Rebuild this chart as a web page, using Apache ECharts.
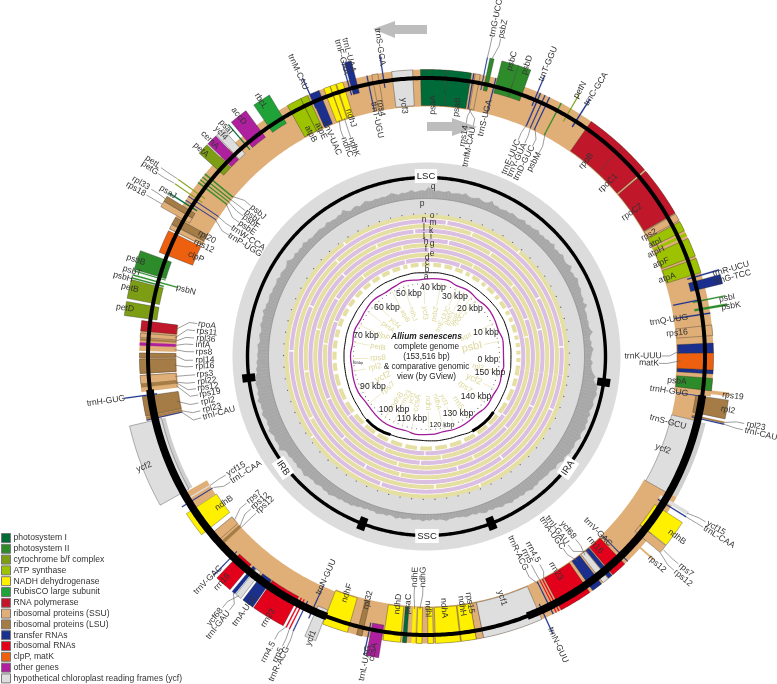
<!DOCTYPE html>
<html><head><meta charset="utf-8">
<style>html,body{margin:0;padding:0;background:#fff}#c{width:777px;height:684px}#c canvas{filter:blur(.35px)}</style>
<script src="https://cdn.jsdelivr.net/npm/echarts@6/dist/echarts.min.js"></script>
</head><body><div id="c"></div>
<script>
/* ---------- data ---------- */
const genomeLength = 153.516; // kbp
const groupNames = ['photosystem I','photosystem II','cytochrome b/f complex','ATP synthase','NADH dehydrogenase','RubisCO large subunit','RNA polymerase','ribosomal proteins (SSU)','ribosomal proteins (LSU)','transfer RNAs','ribosomal RNAs','clpP, matK','other genes','hypothetical chloroplast reading frames (ycf)'];
const groupKeys  = ['psI','psII','cyt','atp','ndh','rbc','rpo','ssu','lsu','trna','rrna','clp','other','ycf'];
// gene, start kbp, end kbp, functional group, strand track
const genes = [
['psbA',.47,1.54,'psII','b'],['trnK-UUU',1.92,2.26,'trna','b'],['matK',2.26,3.71,'clp','b'],['trnK-UUU',3.71,4.56,'trna','b'],['rps16',5.2,6.1,'ssu','b'],
['trnQ-UUG',7.07,7.17,'trna','b'],['psbK',7.5,7.68,'psII','o'],['psbI',8.26,8.36,'psII','o'],['trnS-GCU',8.36,8.46,'trna','i'],['trnG-TCC',9.3,10.07,'trna','o'],['trnR-UCU',10.4,10.5,'trna','o'],
['atpA',10.66,11.94,'atp','b'],['atpF',12.15,13.77,'atp','b'],['atpH',14.03,14.28,'atp','b'],['atpI',14.5,15.35,'atp','b'],['rps2',15.48,16.12,'ssu','b'],
['rpoC2',16.2,20.55,'rpo','b'],['rpoC1',20.72,23.45,'rpo','b'],['rpoB',23.45,26.86,'rpo','b'],['trnC-GCA',27.92,28.02,'trna','o'],['petN',28.87,28.95,'cyt','o'],['psbM',29.8,29.9,'psII','b'],
['trnD-GUC',30.92,31,'trna','b'],['trnY-GUA',31.34,31.42,'trna','b'],['trnE-UUC',31.76,31.86,'trna','b'],['trnT-GGU',32.02,32.1,'trna','o'],['psbD',33.26,34.33,'psII','o'],['psbC',34.33,35.69,'psII','o'],
['trnS-UGA',35.78,35.86,'trna','b'],['psbZ',36.33,36.67,'psII','o'],['trnG-UCC',36.85,36.91,'trna','o'],['rps14',37.18,37.61,'ssu','b'],['trnfM-CAU',37.7,37.78,'trna','b'],
['psaB',37.95,40.08,'psI','b'],['psaA',40.08,42.3,'psI','b'],['ycf3',42.98,44.77,'ycf','b'],['trnS-GGA',45.5,45.58,'trna','o'],['rps4',45.96,46.48,'ssu','b'],['trnT-UGU',46.86,46.94,'trna','b'],
['trnL-UAA',47.88,48.44,'trna','o'],['trnF-GAA',48.57,48.65,'trna','o'],['ndhJ',49.03,49.59,'ndh','b'],['ndhK',49.67,50.15,'ndh','b'],['ndhC',50.19,50.74,'ndh','b'],['trnV-UAC',51.17,52.02,'trna','b'],['trnM-CAU',51.98,52.06,'trna','o'],
['atpE',52.24,52.88,'atp','b'],['atpB',52.88,54.16,'atp','b'],['rbcL',55.01,56.5,'rbc','o'],['accD',57.27,58.76,'other','o'],['psaI',59.02,59.1,'psI','o'],['ycf4',59.62,60.34,'ycf','o'],['cemA',60.42,61.32,'other','o'],['petA',61.41,62.34,'cyt','o'],
['psbJ',63.28,63.4,'psII','b'],['psbL',63.62,63.72,'psII','b'],['psbF',63.92,64,'psII','b'],['psbE',64.2,64.32,'psII','b'],['petL',65,65.07,'cyt','o'],['petG',65.43,65.5,'cyt','o'],['trnW-CCA',65.67,65.73,'trna','b'],['trnP-UGG',66.07,66.13,'trna','b'],
['psaJ',66.3,66.4,'psI','o'],['rpl33',66.65,67.12,'lsu','o'],['rps18',67.12,67.63,'ssu','o'],['rpl20',67.8,68.45,'lsu','b'],['rps12',68.5,68.9,'ssu','b'],['clpP',69.08,71.08,'clp','b'],
['psbB',71.51,73.09,'psII','o'],['psbT',73.17,73.25,'psII','o'],['psbN',73.5,73.6,'psII','l'],['psbH',73.75,73.85,'psII','o'],['petB',73.94,75.48,'cyt','o'],['petD',75.73,76.88,'cyt','o'],
['rpoA',77.1,78,'rpo','b'],['rps11',78.16,78.55,'ssu','b'],['rpl36',78.63,78.8,'lsu','b'],['infA',78.97,79.23,'other','b'],['rps8',79.36,79.66,'ssu','b'],['rpl14',79.87,80.25,'lsu','b'],['rpl16',80.38,81.62,'lsu','b'],
['rps3',81.79,82.51,'ssu','b'],['rpl22',82.51,82.81,'lsu','b'],['rps19',82.9,83.15,'ssu','b'],['trnH-GUG',83.49,83.57,'trna','o'],['rpl2',83.58,85.29,'lsu','b'],['rpl23',85.38,85.55,'lsu','b'],['trnI-CAU',85.6,85.67,'trna','b'],
['ycf2',85.79,92.61,'ycf','o'],['ycf15',93.25,93.35,'ycf','i'],['trnL-CAA',93.6,93.68,'trna','b'],['ndhB',94.33,96.54,'ndh','b'],['rps7',97.01,97.86,'ssu','i'],['rps12',98.08,98.37,'lsu','i'],
['trnV-GAC',99.66,99.74,'trna','o'],['rrn16',100.03,101.44,'rrna','o'],['trnI-GAU',101.66,101.96,'trna','o'],['ycf68',102.04,102.55,'ycf','o'],['trnA-UGC',102.76,103.74,'trna','o'],['rrn23',103.83,106.6,'rrna','o'],
['rrn4.5',106.82,106.92,'rrna','o'],['rrn5',107.11,107.2,'rrna','o'],['trnR-ACG',107.46,107.54,'trna','o'],['trnN-GUU',108.18,108.26,'trna','b'],['ycf1',108.52,109.46,'ycf','o'],['ndhF',109.5,111.72,'ndh','b'],
['rpl32',112.53,113,'lsu','b'],['trnL-UAG',113.47,113.55,'trna','o'],['ccsA',113.68,114.7,'other','o'],['ndhD',114.83,116.33,'ndh','b'],['psaC',116.5,116.84,'psI','b'],['ndhE',117.26,117.56,'ndh','b'],['ndhG',117.69,118.16,'ndh','b'],
['ndhI',118.67,119.14,'ndh','b'],['ndhA',119.31,121.45,'ndh','b'],['ndhH',121.53,122.81,'ndh','b'],['rps15',122.81,123.45,'ssu','b'],['ycf1',123.45,128.65,'ycf','b'],['trnN-GUU',128.95,129.03,'trna','o'],
['trnR-ACG',129.68,129.76,'trna','b'],['rrn5',129.98,130.06,'rrna','b'],['rrn4.5',130.22,130.32,'rrna','b'],['rrn23',130.48,133.34,'rrna','b'],['trnA-UGC',133.64,134.58,'trna','b'],['ycf68',134.75,135.3,'ycf','b'],['trnI-GAU',135.35,135.73,'trna','b'],
['rrn16',135.82,137.18,'rrna','b'],['trnV-GAC',137.48,137.56,'trna','b'],['rps12',139.03,139.17,'ssu','o'],['rps7',139.87,140.59,'ssu','o'],['ndhB',140.64,142.86,'ndh','o'],['trnL-CAA',143.37,143.45,'trna','o'],['ycf15',143.58,143.87,'ycf','o'],
['ycf2',144.34,151.21,'ycf','i'],['trnI-CAU',151.42,151.5,'trna','o'],['rpl23',151.52,151.66,'lsu','o'],['rpl2',151.89,153.42,'lsu','o'],['trnH-GUG',153.4,153.46,'trna','i'],['rps19',.21,.5,'ssu','o']
];
// intergenic background of the gene map
const spacerSegments = [[0,68.95,'band'],[77.1,79.7,'band'],[79.85,81.65,'band'],[81.75,83.2,'band'],[83.6,85.7,'band'],[92.7,94.3,'i'],[97,109.5,'i'],[109.5,144.4,'band'],[151.2,153.516,'i']];
const ycfShadow = [[85.8,92.6,'shadowIn'],[144.4,151.2,'shadowOut']];
const irBoundaries = [83.1,109.6,127.6,153.4];
const irThick = [[83.1,109.6],[127.6,153.516]];
// GC content %, one value per 0.5 kbp
const gcContent = [
37,38,36,35,34.5,35.5,34,34.5,35,36,34.5,35,34,34.5,36.5,35,34.5,35,34.5,35,
35,34.5,37,35,36,35.5,36,37,36.5,37,38,36.5,37,36,38.5,37,36.5,37,38,36.5,
37,36,38,36.5,37,36,36.5,35.5,37,36,35.5,36,35,36.5,35.5,35,35.5,36,35,35.5,
35,34.5,35.5,35,37,35,34.5,35,36,35,34.5,35,36.5,35,35.5,35,34.5,36,35,35,
35.5,35,36,37.5,35,35.5,35,34.5,36,35,34.5,35,34,35,36,35,34.5,35,34.5,35,
34.5,35,36,35,34,35.5,35,34,35,37,35,35.5,34.5,35,35,36,34.5,35,35.5,35,
35,34.5,35.5,35,36.5,35,35.5,35,36,35,35.5,37.5,36,35.5,36,36.5,35.5,37,36,36,
36.5,36,37,36.5,36,37,36.5,38,36.5,37,36.5,37.5,36.5,36,37,36.5,36,37.5,37,37,
37.5,37,38,37.5,38.5,38,39.5,39,40,39.5,39,40,39.5,41,39.5,40,39.5,41,40,39,
40,39.5,41,40,39,40,39.5,39.5,41,38,37.5,38,37,37.5,37,38,37,37.5,38.5,37,
37,36.5,37.5,36.5,36,37,36.5,37.5,36.5,36,36.5,35.5,36,35.5,36,35,35,34,34.5,33.5,
34,33.5,34.5,34,33.5,34,33,33.5,34.5,33.5,34,33.5,33,34,33.5,33.5,34.5,33.5,34,33,
34,33.5,34,35,34,34,33.5,34,34,35,34.5,34,35,34.5,35.5,36,35,36,35.5,36,
37,36,36.5,37.5,36.5,37,36.5,37.5,36.5,37,38,37,37.5,36.5,37,37,37.5,37,37.5,38.5,
37.5,38,39.5,38.5,39,40,39.5,40,39,39.5,41,39.5,40,41,40,40.5,39.5,40.5,39,40,
40.5,39.5,40,41,40,40.5,39];
// comparison rings c..o: kbp positions where a genome has no match
const ringBreaks = [
[1,3,5,7,9,12,14,16,19,21,24,26,29,31,34,37,40,43,46,48,51,54,57,60,63,66,69,72,75,78,81,84,88,92,96,100,104,108,112,116,120,124,128,132,136,140,144,148,151],
[16,33,47,71,96,118,141],[8,30,58,77,108,122],[12,41,66,90,117,139],[20,47,74,112,129],[9,37,61,99,125,146],
[28,52,83,113],[15,44,70,106,134],[33,60,92,120],[5,38,79,110,147],[24,57,95,128]];
const kbpLabels = ['0 kbp','10 kbp','20 kbp','30 kbp','40 kbp','50 kbp','60 kbp','70 kbp','80 kbp','90 kbp','100 kbp','110 kbp','120 kbp','130 kbp','140 kbp','150 kbp'];
const trackLetters = ['q','p','o','n','m','l','k','j','i','h','g','f','e','d','c','b','a'];
const regionNames = ['LSC','IRA','SSC','IRB'];
const titleLines = ['Allium senescens','complete genome','(153,516 bp)','& comparative genomic','view (by GView)'];
const skewTrack = [[78,0],[77,4],[78,8],[76.5,12],[77.5,16],[78,20],[76.5,24],[78,28],[77,32],[79,36],[78,40],[77,44],[78.5,48],[77,52],[76,56],[77.5,60],[76.5,64],[75.5,68],[76.5,72],[75,76],[76,80],[75.5,84],[76.5,88],[77,92],[76,96],[77,100],[78.5,104],[78,108],[77,112],[78.5,116],[78,120],[77,124],[78,128],[77.5,132],[76.5,136],[78,140],[77,144],[78,148],[77,152],[78,153.516]];
const blackTrack = [[85,0],[84.5,4],[84.5,8],[85,12],[85,16],[84.5,20],[84,24],[84,28],[84.5,32],[84.5,36],[84,40],[84,44],[84,48],[84,52],[84.5,56],[84,60],[83.5,64],[83,68],[83,72],[82.5,76],[82.5,80],[82.5,84],[83,88],[84,92],[85,96],[87,100],[87.5,104],[86,108],[85,112],[84,116],[84.5,120],[85,124],[85.5,128],[87.5,132],[88,136],[87,140],[85.5,146],[85,150],[85,153.516]];
const blackThick = [[[87,100],[87.5,104],[86,108]],[[87.5,132],[88,136],[87,140]]];

/* ---------- layout / style ---------- */
const CX=426.5, CY=356.5;
const lanes={b:[251,287],o:[272,305],i:[252,277],l:[258,305],band:[250,287],shadowIn:[268,278],shadowOut:[277,287]};
const groupColors={psI:'#006A38',psII:'#2E8B2A',cyt:'#7D9E14',atp:'#9DC200',ndh:'#FFF000',rbc:'#1FA339',rpo:'#C1172B',ssu:'#E0AF78',lsu:'#A67C46',trna:'#1A2F8E',rrna:'#E2001B',clp:'#EC6010',other:'#AE209E',ycf:'#DEDEDE'};
const FONT='"Liberation Sans",Arial,sans-serif';
// text placement: [text, x, y, leaderKbp, leaderRadius]
const geneLabelLayout=[
['trnS-GGA',380,47],['trnL-UAA',349,55],['trnF-GAA',342,57],['trnM-CAU',298,72],['rbcL',261,101],['accD',239,116],['psaI',226,127],['ycf4',221,133],['cemA',210,140],['petA',201,150],
['petL',153,162,65.03,306],['petG',150,168,65.46,306],['psaJ',168,192],['rpl33',141,183,66.9,305],['rps18',136,189,67.4,305],['rpl20',207,237],['rps12',204,246],['clpP',196,257],['psbB',136,260],['psbT',132,271],['psbH',123,277],['psbN',186,290],['petB',130,288],['petD',125,308],
['rpoA',207,325,77.6,253],['rps11',207,332,78.35,252],['rpl36',206,339,78.7,252],['infA',203,345,79.1,252],['rps8',204,352,79.5,252],['rpl14',205,360,80.05,252],['rpl16',205,366,81,252],['rps3',205,374,82.1,252],['rpl22',207,381,82.66,252],['rps12',208,387,82.7,252],['rps19',210,393,83,252],['rpl2',208,401,84.5,254],['rpl23',212,408,85.45,252],['trnI-CAU',219,413,85.63,251],
['trnH-GUG',106,401],['ycf2',144,467],['ycf15',236,469,93.3,252],['trnL-CAA',246,472,93.64,250],['ndhB',224,503],['rps7',254,497,97.4,252],['rps12',260,501,98.2,252],['rps12',265,505,98.37,252],
['trnV-GAC',208,580],['rrn16',222,582],['ycf68',215,617,102.3,304],['trnI-GAU',218,625,101.8,305],['trnA-UGC',245,610],['rrn23',268,618],['rrn4.5',268,652,106.87,304],['rrn5',278,655,107.15,304],['trnR-ACG',279,664,107.5,304],['trnN-GUU',326,577],['ndhF',347,593],['rpl32',368,600],['ycf1',311,638],['trnL-UAG',365,663],['ccsA',373,652],
['ndhD',398,604],['psaC',408,604],['ndhE',415,577,117.4,253],['ndhG',423,577,117.9,253],['ndhI',428,609],['ndhA',444,608],['ndhH',462,606],['rps15',470,603],['ycf1',502,598],['trnN-GUU',558,645],['rrn4.5',533,552,130.27,254],['rrn5',527,556,130.02,254],['trnR-ACG',518,553,129.72,254],['rrn23',556,571],['trnA-UGC',552,533,134.1,254],['trnI-GAU',557,530,135.5,254],['ycf68',568,530,135,254],['trnV-GAC',598,532],['rrn16',595,545],
['ndhB',677,537],['rps12',657,564],['rps7',686,570,140.2,306],['rps12',683,578,139.87,305],['ycf15',716,528,143.7,304],['trnL-CAA',719,537,143.41,305],['ycf2',663,449],['trnS-GCU',668,422],['rpl23',756,426,151.6,305],['trnI-CAU',761,434,151.46,305],['rpl2',728,410],['rps19',733,396],['trnH-GUG',669,391],['psbA',677,381],['trnK-UUU',643,356,4,254],['matK',649,363,3,254],
['rps16',677,333],['trnQ-UUG',669,320],['psbK',731,306],['psbI',727,298],['trnG-TCC',733,277],['trnR-UCU',731,269],['atpA',667,278],['atpF',661,263],['atpH',656,252],['atpI',655,243],['rps2',649,235],['rpoC2',632,212],['rpoC1',608,183],['rpoB',586,161],['trnC-GCA',596,89],['petN',580,90],
['psbM',534,162,29.85,253],['trnD-GUC',524,163,30.96,253],['trnY-GUA',517,160,31.38,253],['trnE-UUC',511,157,31.81,253],['trnT-GGU',548,64],['psbD',527,65],['psbC',512,61],['psbZ',503,29,36.5,305],['trnG-UCC',496,18,36.88,305],['trnS-UGA',485,118],['rps14',464,136,37.4,252],['trnfM-CAU',469,147,37.74,252],['psaB',457,107],['psaA',433,105],['ycf3',404,106],
['rps4',381,108],['trnT-UGU',377,120],['ndhJ',351,118],['ndhK',354,147,49.9,252],['ndhC',347,147,50.45,252],['trnV-UAC',332,138],['atpE',321,131],['atpB',311,134],
['psbJ',258,212,63.34,252],['psbL',253,217,63.67,252],['psbF',251,222,63.96,252],['psbE',247,228,64.26,252],['trnW-CCA',248,238,65.7,252],['trnP-UGG',245,245,66.1,252]
];
const innerLabelLayout=[['psbI',472,347,11],['atpI',466,337,7],['rpoC2',460,318,7],['rpoB',454,320,7],['petN',449,318,7],['trnE-UUC',443,319,6.5],['psbZ',435,314,7],['ycf3',425,313,7.5],['ndhJ',413,314,6.5],['atpB',405,316,6.5],['ycf4',395,323,7],['petA',388,327,7],['clpP',383,336,7.5],['petB',378,347,7.5],['rps8',378,358,8],['rpl2',375,367,8],['ycf2',383,377,9],['rps7',388,388,8],['ndhB',397,400,7.5],['rrn23',406,398,7],['ycf1',412,398,6.5],['ccsA',417,403,8],['ndhI',428,403,7.5],['ndhA',437,402,7],['ycf1',444,400,6.5],['rrn5',458,403,8],['rps7',465,387,8],['ycf2',474,379,9],['rpl2',478,367,7]];
const kbpLabelPos=[[488,360,8.6],[486,333,8.6],[470,309,8.6],[455,297,8.6],[433,288,8.6],[409,294,8.6],[387,308,8.6],[366,336,8.6],[358,363,3.5],[373,387,8.6],[394,410,8.6],[412,419,8.6],[442,425,7],[458,414,8.6],[476,397,8.6],[490,373,8.6]];
const letterPos=[[433,187],[422,204],[432,216],[424,220],[433,223],[424,228],[431,231],[424,235],[431,237],[426,242],[432,244],[426,249],[432,254],[427,258],[427,263],[427,270],[426,277]];
const regionPos=[[426,176,0],[568,468,56],[427,536,0],[283,468,-56]];
const titleY=[337,347,357,367,377];
const ringColors=['#E6DFA2','#DBBFE2'];

/* ---------- helpers ---------- */
function arcPoints(api,rIn,a,b,rOut){
  const n=Math.max(1,Math.ceil((b-a)/0.2)),p=[];
  for(let i=0;i<=n;i++)p.push(api.coord([rOut,a+(b-a)*i/n]));
  for(let i=n;i>=0;i--)p.push(api.coord([rIn,a+(b-a)*i/n]));
  return p;
}
function radialRotation(x,y){
  const t=Math.atan2(CY-y,x-CX);
  return Math.cos(t)>=0?t:t+Math.PI;
}
const base={type:'custom',coordinateSystem:'polar',encode:{radius:0,angle:1},silent:true,animation:false,clip:false};
function bandSeries(name,rows,z,color,opts){
  opts=opts||{};
  return Object.assign({},base,{name,z,data:rows,itemStyle:{color},
    renderItem(p,api){
      const a=api.value(1),b=api.value(2),c=api.visual('color');
      const narrow=(b-a)<0.3;
      return {type:'polygon',shape:{points:arcPoints(api,api.value(0),a,b,api.value(3))},
        style:{fill:c,stroke:opts.noStroke?null:(narrow?c:'rgba(45,45,45,0.6)'),lineWidth:narrow?0.25:0.6}};
    }});
}
const seg=(rows,lane)=>rows.map(s=>{const l=lanes[lane||s[2]];return [l[0],s[0],s[1],l[1]];});

/* ---------- series ---------- */
const series=[];
series.push(bandSeries('disc',[[0,0,genomeLength,194]],1,'#DCDCDC',{noStroke:true}));
series.push(bandSeries('white',[[0,0,genomeLength,141]],2,'#FFFFFF',{noStroke:true}));
// GC track
const gcR=g=>158+(g-30)*1.5;
series.push(Object.assign({},base,{name:'GC',z:3,data:gcContent.map((g,i)=>[gcR(g),i*0.5]),
  renderItem(p,api){
    const i=p.dataIndex,a=i*0.5,b=Math.min((i+1)*0.5,genomeLength);
    const r1=gcR(gcContent[i]),r2=gcR(gcContent[(i+1)%gcContent.length]);
    return {type:'polygon',shape:{points:[api.coord([158,a]),api.coord([r1,a]),api.coord([r2,b]),api.coord([158,b])]},style:{fill:'#A8A8A8',stroke:'#A8A8A8',lineWidth:.3}};
  }}));
series.push(Object.assign({},base,{name:'GCbase',z:4,data:[[158,0]],renderItem(p,api){
  const pts=[];for(let a=0;a<=genomeLength+.2;a+=.5)pts.push(api.coord([158,Math.min(a,genomeLength)]));
  return {type:'polyline',shape:{points:pts},style:{fill:null,stroke:'#8a8a8a',lineWidth:.6}};}}));
// similarity rings
ringBreaks.forEach((br,i)=>{
  const r=92+i*4.8,w=4.1,rows=[];let s=0;const gap=i===0?0.9:0.3;
  br.forEach(b=>{rows.push([r-w/2,s,b,r+w/2]);s=b+gap;});
  rows.push([r-w/2,s,genomeLength,r+w/2]);
  series.push(bandSeries('ring'+i,rows,5,ringColors[i%2],{noStroke:true}));
});
// tick dots
const tickOuter=[],tickInner=[];
for(let k=0;k<153.5;k+=2)tickOuter.push([143,k]);
for(let k=0;k<153.5;k+=1.6)tickInner.push([73,k]);
const dot=(name,rows,size)=>({type:'scatter',name,coordinateSystem:'polar',data:rows,symbol:'circle',symbolSize:size,itemStyle:{color:'#444'},silent:true,z:6,animation:false});
series.push(dot('tickOuter',tickOuter,1.3),dot('tickInner',tickInner,1.1));
// wavy tracks
const line=(name,rows,color,w,z)=>({type:'line',name,coordinateSystem:'polar',data:rows,showSymbol:false,symbol:'none',lineStyle:{color,width:w},silent:true,z:z||7,animation:false,smooth:true});
series.push(line('skew',skewTrack,'#A01C9A',1.3));
series.push(line('black',blackTrack,'#000',1));
blackThick.forEach((t,i)=>series.push(line('blackThick'+i,t,'#000',3)));
// black circle around the comparison rings with region ticks
series.push(bandSeries('regionRing',[[177.3,0,genomeLength,180.7]],8,'#000',{noStroke:true}));
series.push(bandSeries('regionTicks',irBoundaries.map(b=>[172.5,b-.55,b+.55,185.5]),8,'#000',{noStroke:true}));
// gene map background
series.push(bandSeries('shadow',seg(ycfShadow),9,'#CFCFCF',{noStroke:true}));
series.push(bandSeries('spacer',seg(spacerSegments),10,'#E0AF78',{noStroke:true}));
// genes by functional group
groupKeys.forEach((k,i)=>{
  const rows=genes.filter(g=>g[3]===k).map(g=>{const l=lanes[g[4]];return [l[0],g[1],g[2],l[1]];});
  series.push(bandSeries(groupNames[i],rows,11+(['ssu','lsu'].includes(k)?0:1),groupColors[k]));
});
// leaders
const leaders=geneLabelLayout.filter(l=>l.length>3);
series.push(Object.assign({},base,{name:'leaders',z:13,data:leaders.map(l=>[l[4],l[3]]),
  renderItem(p,api){
    const l=leaders[p.dataIndex],t=api.coord([api.value(0),api.value(1)]);
    const rot=radialRotation(l[1],l[2]),ux=Math.cos(rot),uy=-Math.sin(rot);
    const half=l[0].length*2.2+1,s=((t[0]-l[1])*ux+(t[1]-l[2])*uy)>=0?1:-1;
    const st=[l[1]+ux*half*s,l[2]+uy*half*s];
    const md=[st[0]+ux*s*8,st[1]+uy*s*8];
    return {type:'polyline',shape:{points:[st,md,t]},style:{fill:null,stroke:'#5a5a5a',lineWidth:.6}};
  }}));
// main black circle
series.push(bandSeries('mainRing',[[276.5,0,genomeLength,280.5]],14,'#000',{noStroke:true}));
series.push(bandSeries('irRing',irThick.map(t=>[274.7,t[0],t[1],282.3]),14,'#000',{noStroke:true}));

/* ---------- text and arrows ---------- */
const g=[];
const txt=(text,x,y,rot,size,fill,extra)=>g.push({type:'text',x,y,rotation:rot,silent:true,z:100,
  style:Object.assign({text,fill,font:size+'px '+FONT,align:'center',verticalAlign:'middle'},extra||{})});
geneLabelLayout.forEach(l=>txt(l[0],l[1],l[2],radialRotation(l[1],l[2]),8.6,'#333'));
innerLabelLayout.forEach(l=>{
  txt(l[0],l[1],l[2],radialRotation(l[1],l[2]),l[3],'#DDD79A');
  const t=Math.atan2(CY-l[2],l[1]-CX),r=Math.hypot(l[1]-CX,l[2]-CY)+l[0].length*l[3]*.26+1;
  g.push({type:'line',silent:true,z:50,shape:{x1:CX+r*Math.cos(t),y1:CY-r*Math.sin(t),x2:CX+75*Math.cos(t),y2:CY-75*Math.sin(t)},style:{stroke:'#E6E0B0',lineWidth:.7}});
});
kbpLabels.forEach((s,i)=>txt(s,kbpLabelPos[i][0],kbpLabelPos[i][1],0,kbpLabelPos[i][2],'#222'));
trackLetters.forEach((s,i)=>txt(s,letterPos[i][0],letterPos[i][1],0,8.5,'#333'));
regionNames.forEach((s,i)=>{const q=regionPos[i];txt(s,q[0],q[1],q[2]*Math.PI/180,9.5,'#222',{backgroundColor:'#fff',padding:[2,2,2,2]});});
titleLines.forEach((s,i)=>txt(s,426.5,titleY[i],0,8.2,'#222',i===0?{font:'italic bold 8.4px '+FONT}:null));
const arrowFill='#BDBDBD';
g.push({type:'polygon',silent:true,z:60,shape:{points:[[427,25],[395,25],[395,21],[373,29],[395,38],[395,34],[427,34]]},style:{fill:arrowFill}});
g.push({type:'polygon',silent:true,z:60,shape:{points:[[427,122],[452,122],[452,118],[477,127],[452,136],[452,131],[427,131]]},style:{fill:arrowFill}});

const chart=echarts.init(document.getElementById('c'),null,{renderer:'canvas'});
chart.setOption({
  animation:false,backgroundColor:'#fff',
  polar:{center:[CX,CY],radius:340},
  radiusAxis:{type:'value',min:0,max:340,show:false},
  angleAxis:{type:'value',min:0,max:genomeLength,startAngle:-8,clockwise:false,show:false},
  tooltip:{show:false},
  legend:{data:groupNames,orient:'vertical',left:1,top:533,padding:0,itemWidth:9,itemHeight:9,itemGap:0.8,selectedMode:false,
    icon:'rect',itemStyle:{borderColor:'#777',borderWidth:1},textStyle:{fontSize:8.6,color:'#333',fontFamily:FONT,padding:[0,0,0,-2],lineHeight:10},z:100},
  graphic:{elements:g},
  series
});
</script></body></html>
